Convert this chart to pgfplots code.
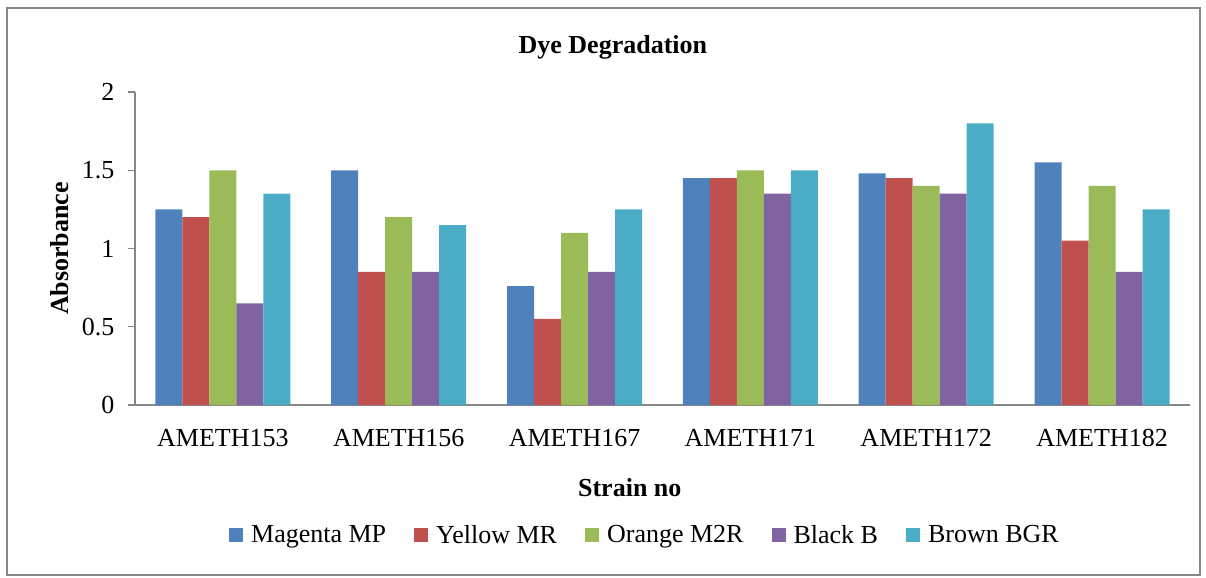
\documentclass[border=0pt]{standalone}
\usepackage{fontspec}
\setmainfont{Liberation Serif}
\usepackage{pgfplots}
\pgfplotsset{compat=1.18}

\definecolor{cMag}{HTML}{4F81BD}
\definecolor{cYel}{HTML}{C0504D}
\definecolor{cOra}{HTML}{9BBB59}
\definecolor{cBla}{HTML}{8064A2}
\definecolor{cBro}{HTML}{4BACC6}
\definecolor{axisgray}{HTML}{868686}

\begin{document}
\begin{tikzpicture}
\begin{axis}[
  scale only axis,
  width=1055bp, height=313bp,
  xmin=-0.5, xmax=5.5,
  ymin=0, ymax=2,
  ybar=0pt, bar width=27bp,
  axis x line=bottom, axis y line=left,
  axis line style={-, draw=axisgray, line width=1.2bp},
  xtick=data,
  xticklabels={AMETH153,AMETH156,AMETH167,AMETH171,AMETH172,AMETH182},
  x tick style={draw=none},
  ytick={0,0.5,1,1.5,2},
  tick align=outside,
  major tick length=7bp,
  y tick style={draw=axisgray, line width=1.2bp},
  /pgf/number format/assume math mode=true,
  tick label style={font=\fontsize{26bp}{30bp}\selectfont},
  xticklabel style={yshift=-14bp},
  yticklabel style={xshift=-10bp},
  title={Dye Degradation},
  title style={font=\bfseries\fontsize{26bp}{30bp}\selectfont,
    at={(axis description cs:0.453,1)}, anchor=center, yshift=39bp},
  xlabel={Strain no},
  xlabel style={font=\bfseries\fontsize{26bp}{30bp}\selectfont,
    at={(axis description cs:0.469,0)}, anchor=center, yshift=-83bp},
  ylabel={Absorbance},
  ylabel style={font=\bfseries\fontsize{26bp}{30bp}\selectfont,
    at={(axis description cs:-0.0711,0.5)}, anchor=center},
  legend columns=5,
  legend style={draw=none, fill=none,
    at={(axis description cs:0.4834,-0.415)}, anchor=center,
    font=\fontsize{26bp}{30bp}\selectfont,
    /tikz/every even column/.append style={column sep=26bp},
    inner sep=0pt},
  legend image code/.code={
    \fill[#1] (0bp,-7bp) rectangle (14bp,7bp);
    \path (0bp,0bp) -- (20bp,0bp);},
  every axis plot/.append style={draw=none},
]
% Magenta MP
\addplot[fill=cMag] coordinates {(0,1.25) (1,1.50) (2,0.76) (3,1.45) (4,1.48) (5,1.55)};
% Yellow MR
\addplot[fill=cYel] coordinates {(0,1.20) (1,0.85) (2,0.55) (3,1.45) (4,1.45) (5,1.05)};
% Orange M2R
\addplot[fill=cOra] coordinates {(0,1.50) (1,1.20) (2,1.10) (3,1.50) (4,1.40) (5,1.40)};
% Black B
\addplot[fill=cBla] coordinates {(0,0.65) (1,0.85) (2,0.85) (3,1.35) (4,1.35) (5,0.85)};
% Brown BGR
\addplot[fill=cBro] coordinates {(0,1.35) (1,1.15) (2,1.25) (3,1.50) (4,1.80) (5,1.25)};
\legend{Magenta MP, Yellow MR, Orange M2R, Black B, Brown BGR}
\end{axis}
% chart frame and page extent
\draw[axisgray, line width=1.2bp]
  ([xshift=-128bp,yshift=-170bp]current axis.south west) coordinate (fsw)
  rectangle ([xshift=1193bp,yshift=567bp]fsw);
\useasboundingbox ([xshift=-135bp,yshift=-173bp]current axis.south west)
  rectangle ([xshift=1071bp,yshift=405bp]current axis.south west);
\end{tikzpicture}
\end{document}
